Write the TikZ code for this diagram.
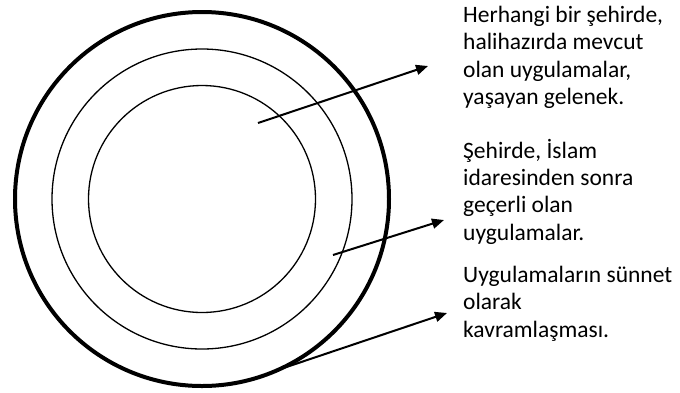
\documentclass[tikz,border=0pt]{standalone}
\usepackage{fontspec}
\setmainfont{Carlito}
\usetikzlibrary{arrows.meta,positioning}

\begin{document}
\begin{tikzpicture}[
  x=1pt, y=-1pt,
  ring/.style={draw, circle, inner sep=0pt, outer sep=0pt, line width=1.3pt},
  rim/.style={ring, line width=4pt},
  note/.style={anchor=north west, inner sep=0pt, align=left,
               font=\fontsize{23.5}{27.3}\selectfont},
  arr/.style={-{Triangle[length=12pt, width=10pt]}, line width=2pt}
]
\useasboundingbox (0,0) rectangle (680,392);
% three rings
\node[rim, minimum size=374pt] (outer) at (202,199) {};
\node[ring, minimum size=300pt] (middle) at (202,199) {};
\node[ring, minimum size=227pt] (inner) at (202,199) {};

% notes on the right
\node[note] (t1) at (463,6) {Herhangi bir şehirde,\\ halihazırda mevcut\\ olan uygulamalar,\\ yaşayan gelenek.};
\node[note] (t2) at (463,139) {Şehirde, İslam\\ idaresinden sonra\\ geçerli olan\\ uygulamalar.};
\node[note] (t3) at (463,266) {Uygulamaların sünnet\\ olarak\\ kavramlaşması.};

% arrows
\coordinate (s1) at (258,123);
\coordinate (e1) at (428,66);
\coordinate (s2) at (333,255);
\coordinate (e2) at (444,220);
\coordinate (e3) at (447,313);
\draw[arr] (s1) -- (e1);
\draw[arr] (s2) -- (e2);
\draw[arr] (outer.-66) -- (e3);
\end{tikzpicture}
\end{document}
